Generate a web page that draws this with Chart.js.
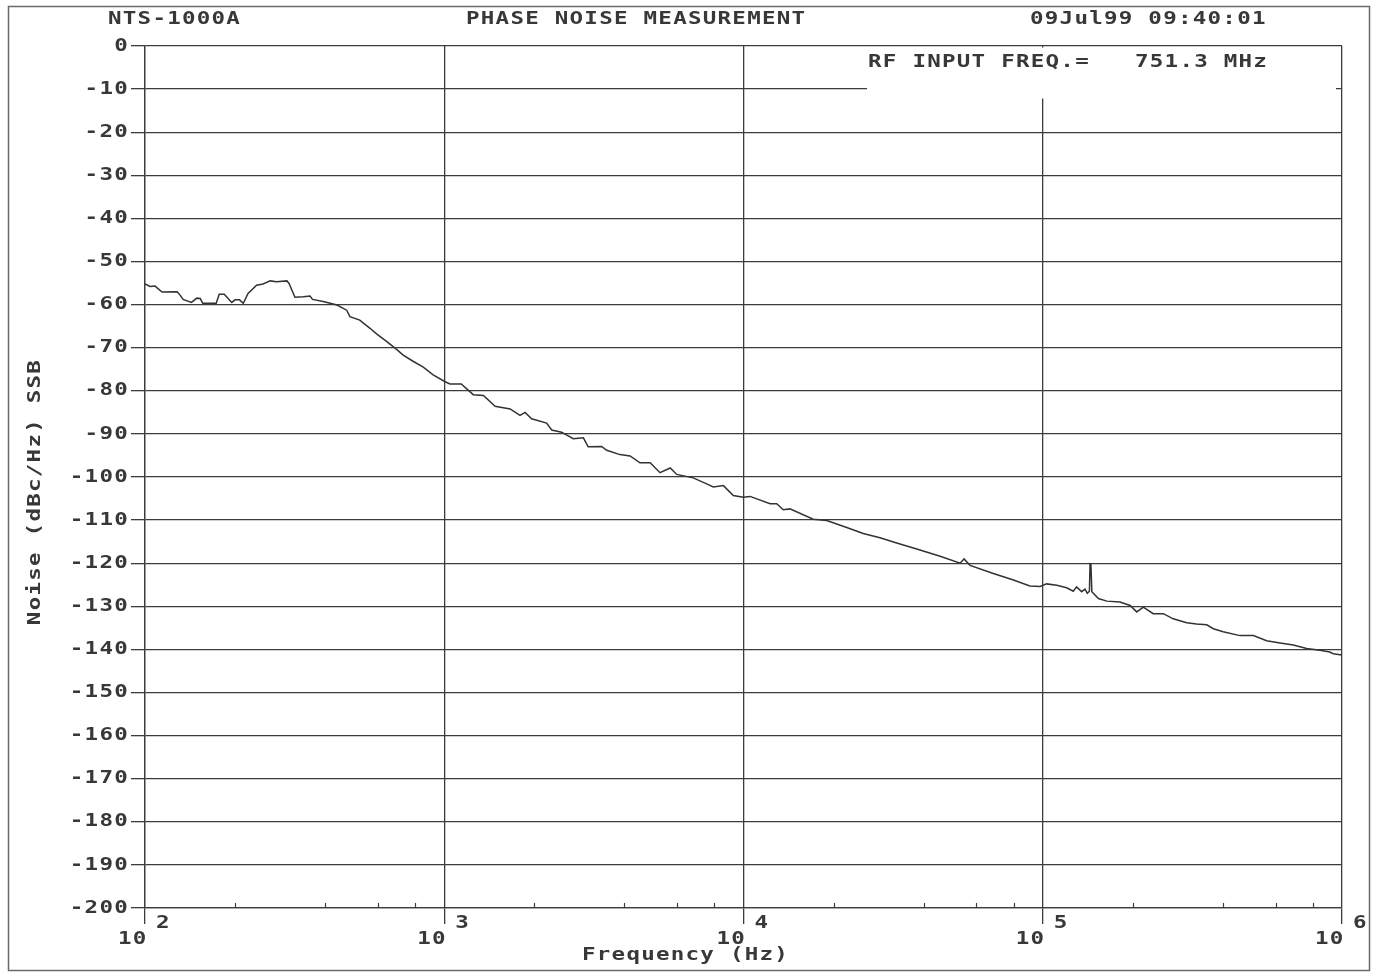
<!DOCTYPE html>
<html><head><meta charset="utf-8">
<script src="https://cdn.jsdelivr.net/npm/chart.js@4.4.1/dist/chart.umd.min.js"></script>
<style>html,body{margin:0;padding:0;background:#fff;overflow:hidden}canvas{display:block}</style>
</head><body>
<canvas id="c" width="1377" height="977"></canvas>
<script>
// ---- data ----
const freqHz = [100,104,108,114,128,131,134,143,149,153,156,167,173,177,184,195,200,207,213,221,236,248,262,275,298,303,317,338,356,363,394,438,472,484,522,537,565,594,643,693,729,789,851,918,1007,1045,1140,1250,1352,1479,1660,1791,1862,1959,2198,2286,2466,2698,2917,3027,3357,3491,3864,4178,4508,4875,5260,5689,5984,6792,7534,7925,8570,9247,9977,10520,12270,12910,13580,14290,17100,18970,22130,25120,28580,32510,37930,45390,52970,54580,57150,68390,79800,90570,97950,103000,111400,120200,126500,129700,134900,138400,140900,143200,143900,144900,145900,153500,163700,181100,195900,206100,216800,233900,252900,272900,302700,326600,353200,371500,400900,456000,505800,559800,620900,687100,762100,843300,909900,935400,1000000];
const noiseDbc = [-55.2,-55.8,-55.7,-57.1,-57.0,-57.8,-58.8,-59.5,-58.5,-58.6,-59.7,-59.7,-59.7,-57.6,-57.6,-59.5,-58.9,-58.9,-59.7,-57.4,-55.5,-55.2,-54.5,-54.7,-54.5,-55.1,-58.3,-58.2,-58.0,-58.8,-59.3,-60.1,-61.3,-62.8,-63.6,-64.3,-65.5,-66.8,-68.6,-70.4,-71.7,-73.2,-74.5,-76.3,-77.9,-78.4,-78.4,-80.9,-81.1,-83.6,-84.2,-85.7,-85.0,-86.5,-87.5,-89.1,-89.6,-91.1,-90.9,-93.0,-92.9,-93.8,-94.8,-95.1,-96.7,-96.7,-99.0,-97.9,-99.4,-100.2,-101.6,-102.3,-102.0,-104.3,-104.7,-104.5,-106.2,-106.2,-107.6,-107.4,-109.8,-110.1,-111.7,-113.1,-114.1,-115.3,-116.7,-118.4,-120.0,-119.0,-120.5,-122.4,-123.9,-125.3,-125.4,-124.8,-125.1,-125.7,-126.5,-125.5,-126.6,-126.0,-127.0,-126.5,-120.2,-120.4,-126.6,-128.2,-128.8,-129.0,-129.8,-131.3,-130.2,-131.7,-131.7,-132.9,-133.8,-134.1,-134.3,-135.2,-135.9,-136.8,-136.8,-138.0,-138.5,-139.0,-139.8,-140.2,-140.6,-141.0,-141.3];

const yTickValues = [0,-10,-20,-30,-40,-50,-60,-70,-80,-90,-100,-110,-120,-130,-140,-150,-160,-170,-180,-190,-200];
const yTickLabels = ['0','-10','-20','-30','-40','-50','-60','-70','-80','-90','-100','-110','-120','-130','-140','-150','-160','-170','-180','-190','-200'];
const xDecades = [100,1000,10000,100000,1000000];
const xTickBase = ['10','10','10','10','10'];
const xTickExp = ['2','3','4','5','6'];
const xMinorMultipliers = [2,4,6,8];

const headerLeft = 'NTS-1000A';
const headerCenter = 'PHASE NOISE MEASUREMENT';
const headerRight = '09Jul99 09:40:01';
const rfLabel = 'RF INPUT FREQ.=';
const rfValue = '751.3 MHz';
const xTitle = 'Frequency (Hz)';
const yTitle = 'Noise (dBc/Hz) SSB';

// ---- styles ----
const INK = '#383838';
const LINE = '#3c3c3c';
const FAMILY = '"DejaVu Sans Mono", monospace';
const FONT = 'bold 18px ' + FAMILY;
const STRETCH = 1.25;
const SPACING = '1px';

function txt(ctx, s, x, y, align, rot) {
  ctx.save();
  ctx.font = FONT;
  ctx.fillStyle = INK;
  ctx.letterSpacing = SPACING;
  ctx.textAlign = align || 'left';
  ctx.textBaseline = 'middle';
  ctx.translate(x, y);
  if (rot) ctx.rotate(rot);
  ctx.scale(STRETCH, 1);
  ctx.fillText(s, 0, 0);
  ctx.restore();
}

const decor = {
  id: 'decor',
  beforeDraw(chart) {
    const ctx = chart.ctx;
    ctx.save();
    ctx.fillStyle = '#fff';
    ctx.fillRect(0, 0, chart.width, chart.height);
    ctx.restore();
  },
  afterDraw(chart) {
    const ctx = chart.ctx;
    const xs = chart.scales.x, ys = chart.scales.y;
    const area = chart.chartArea;
    // minor ticks on the bottom axis
    ctx.save();
    ctx.strokeStyle = LINE;
    ctx.lineWidth = 1.2;
    xDecades.slice(0, -1).forEach(d => {
      xMinorMultipliers.forEach(m => {
        const px = Math.round(xs.getPixelForValue(d * m)) + 0.5;
        ctx.beginPath();
        ctx.moveTo(px, area.bottom);
        ctx.lineTo(px, area.bottom - 5);
        ctx.stroke();
      });
    });
    ctx.restore();
    // annotation box covering grid
    ctx.save();
    ctx.fillStyle = '#fff';
    ctx.fillRect(867, area.top + 1.5, 469, 51);
    ctx.restore();
    // y tick labels, placed by the y scale
    yTickValues.forEach((v, i) => {
      txt(ctx, yTickLabels[i], 129, ys.getPixelForValue(v), 'right');
    });
    // header and annotation
    txt(ctx, headerLeft, 108, 19);
    txt(ctx, headerCenter, 466, 19);
    txt(ctx, headerRight, 1030, 19);
    txt(ctx, rfLabel, 868, 62);
    txt(ctx, rfValue, 1135, 62);
    // x tick labels, placed by the x scale
    xDecades.forEach((d, i) => {
      const px = xs.getPixelForValue(d);
      txt(ctx, xTickBase[i], px - 27, 939);
      txt(ctx, xTickExp[i], px + 11, 923);
    });
    txt(ctx, xTitle, 582, 955);
    txt(ctx, yTitle, 35, 492, 'center', -Math.PI / 2);
    // outer frame
    ctx.save();
    ctx.strokeStyle = '#6a6a6a';
    ctx.lineWidth = 1.5;
    ctx.strokeRect(8.5, 6.5, 1361, 964);
    ctx.restore();
  }
};

new Chart(document.getElementById('c'), {
  type: 'line',
  data: {
    datasets: [{
      data: freqHz.map((f, i) => ({ x: f, y: noiseDbc[i] })),
      borderColor: '#333',
      borderWidth: 1.5,
      pointRadius: 0,
      tension: 0,
      fill: false
    }]
  },
  options: {
    responsive: false,
    animation: false,
    devicePixelRatio: 1,
    layout: { padding: { left: 0, right: 35, top: 46, bottom: 0 } },
    plugins: { legend: { display: false }, tooltip: { enabled: false }, title: { display: false } },
    scales: {
      x: {
        type: 'logarithmic',
        min: 100, max: 1000000,
        afterBuildTicks: s => { s.ticks = xDecades.map(v => ({ value: v })); },
        afterFit: s => { s.height = 69; },
        ticks: { display: false },
        grid: { color: LINE, lineWidth: 1.3, drawTicks: true, tickLength: 16, tickColor: LINE },
        border: { display: true, color: LINE, width: 1.3 }
      },
      y: {
        min: -200, max: 0,
        afterBuildTicks: s => { s.ticks = yTickValues.slice().reverse().map(v => ({ value: v })); },
        afterFit: s => { s.width = 145; },
        ticks: { display: false },
        grid: { color: LINE, lineWidth: 1.3, drawTicks: true, tickLength: 14, tickColor: LINE },
        border: { display: true, color: LINE, width: 1.3 }
      }
    }
  },
  plugins: [decor]
});
</script>
</body></html>
